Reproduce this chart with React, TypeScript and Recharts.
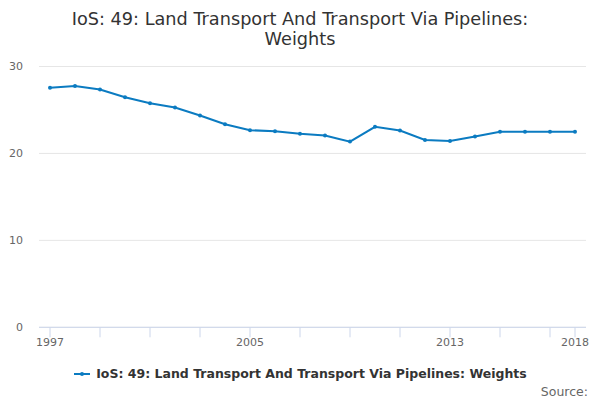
import React from 'react';
import { LineChart, Line, XAxis, YAxis, CartesianGrid, Legend } from 'recharts';

const years = [1997, 1998, 1999, 2000, 2001, 2002, 2003, 2004, 2005, 2006, 2007, 2008, 2009, 2010, 2011, 2012, 2013, 2014, 2015, 2016, 2017, 2018];
const weights = [27.55, 27.77, 27.36, 26.46, 25.78, 25.28, 24.37, 23.35, 22.67, 22.56, 22.26, 22.07, 21.36, 23.06, 22.64, 21.54, 21.43, 21.96, 22.5, 22.5, 22.5, 22.5];
const xTicks = [1997, 1999, 2001, 2003, 2005, 2007, 2009, 2011, 2013, 2015, 2017, 2018];
const xLabels = [1997, 2005, 2013, 2018];
const yTicks = [0, 10, 20, 30];
const seriesName = 'IoS: 49: Land Transport And Transport Via Pipelines: Weights';
const titleLines = ['IoS: 49: Land Transport And Transport Via Pipelines:', 'Weights'];

const data = years.map((y, i) => ({ year: y, value: weights[i] }));

const FONT = '"DejaVu Sans", sans-serif';
const LINE_COLOR = '#0b7bc1';

const LegendContent = () => (
  <div style={{ display: 'flex', justifyContent: 'center', alignItems: 'center', fontFamily: FONT }}>
    <svg width={20} height={12} style={{ marginRight: 3 }}>
      <line x1={1} y1={6} x2={17} y2={6} stroke={LINE_COLOR} strokeWidth={2} />
      <circle cx={9} cy={6} r={2} fill={LINE_COLOR} />
    </svg>
    <span style={{ fontSize: 12.5, fontWeight: 'bold', color: '#333' }}>{seriesName}</span>
  </div>
);

export default function App() {
  return (
    <div style={{ position: 'absolute', left: 0, top: 0, width: 600, height: 400, background: '#fff', fontFamily: FONT }}>
      <div style={{ position: 'absolute', top: 8.6, left: 0, width: 600, textAlign: 'center', fontSize: 17.7, color: '#333', lineHeight: '20px' }}>
        {titleLines.map((t) => (
          <div key={t}>{t}</div>
        ))}
      </div>
      <LineChart
        width={600}
        height={400}
        data={data}
        margin={{ top: 66.5, right: 14, bottom: 42.7, left: 0 }}
      >
        <CartesianGrid vertical={false} stroke="#e6e6e6" />
        <XAxis
          dataKey="year"
          type="number"
          domain={[1997, 2018]}
          ticks={xTicks}
          interval={0}
          padding={{ left: 11, right: 11 }}
          height={30}
          tickSize={10}
          tickMargin={1}
          stroke="#ccd6eb"
          tick={{ fill: '#666', fontSize: 11, fontFamily: FONT }}
          tickFormatter={(v: number) => (xLabels.includes(v) ? String(v) : '')}
        />
        <YAxis
          domain={[0, 30]}
          ticks={yTicks}
          width={39}
          axisLine={false}
          tickLine={false}
          tickSize={0}
          tickMargin={16}
          tick={{ fill: '#666', fontSize: 11, fontFamily: FONT }}
        />
        <Legend
          layout="horizontal"
          verticalAlign="middle"
          align="center"
          wrapperStyle={{ top: 366, left: 0, width: 600 }}
          content={<LegendContent />}
        />
        <Line
          type="linear"
          dataKey="value"
          name={seriesName}
          stroke={LINE_COLOR}
          strokeWidth={2}
          dot={{ r: 2, fill: LINE_COLOR, stroke: LINE_COLOR, strokeWidth: 0 }}
          activeDot={false}
          isAnimationActive={false}
        />
      </LineChart>
      <div style={{ position: 'absolute', right: 12, top: 384, fontSize: 12.5, color: '#666' }}>Source:</div>
    </div>
  );
}
